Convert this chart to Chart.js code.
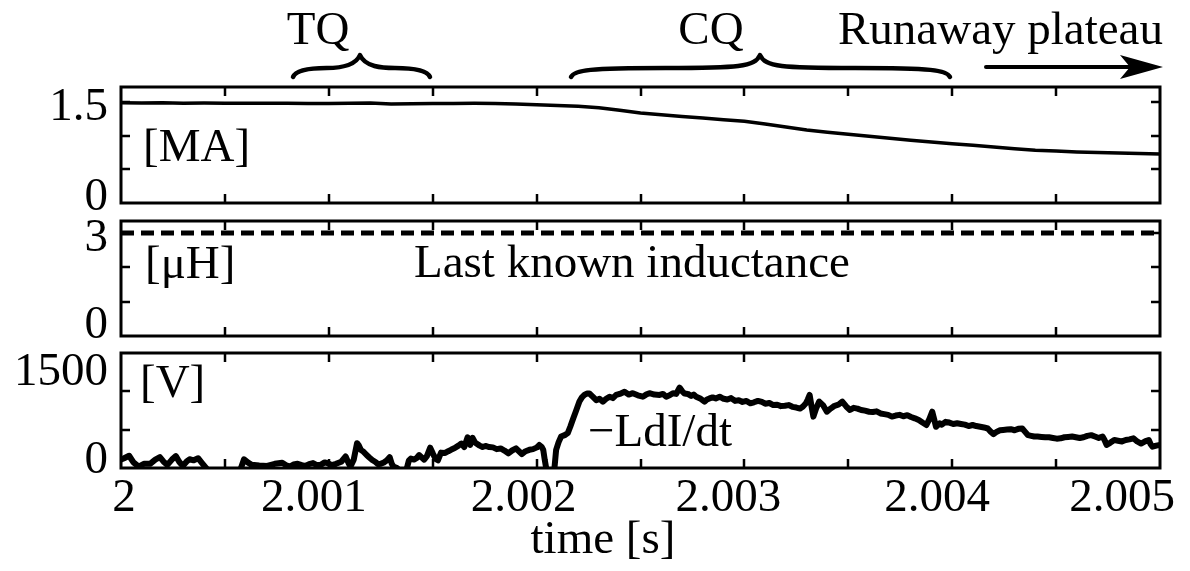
<!DOCTYPE html>
<html><head><meta charset="utf-8">
<script src="https://cdn.jsdelivr.net/npm/chart.js@4.4.1/dist/chart.umd.min.js"></script>
<style>
html,body{margin:0;padding:0;background:#fff;}
#wrap{position:relative;width:1190px;height:571px;overflow:hidden;background:#fff;}
#wrap canvas{position:absolute;left:0;top:0;}
</style></head><body>
<div id="wrap">
<canvas id="c1" width="1190" height="571"></canvas>
<canvas id="c2" width="1190" height="571"></canvas>
<canvas id="c3" width="1190" height="571"></canvas>
</div>
<script>
// ---------------- DATA ----------------
const X_MIN = 2.000, X_MAX = 2.005, X_STEP = 0.0005;
const X_TICK_VALUES = [2.000, 2.001, 2.002, 2.003, 2.004, 2.005];
const X_TICK_LABELS = ['2', '2.001', '2.002', '2.003', '2.004', '2.005'];

// Plasma current [MA], time in microseconds after t = 2 s
const CURRENT_T_US = [0,100,200,300,400,500,600,700,800,900,
  1000,1100,1200,1300,1400,1500,1600,1700,1800,1900,
  2000,2100,2200,2300,2400,2500,2600,2700,2800,2900,
  3000,3100,3200,3300,3400,3500,3600,3700,3800,3900,
  4000,4100,4200,4300,4400,4500,4600,4700,4800,4900,5000];
const CURRENT_MA = [1.485,1.482,1.486,1.480,1.481,1.480,1.479,1.480,1.478,1.474,
  1.476,1.479,1.484,1.468,1.470,1.474,1.476,1.478,1.476,1.468,
  1.456,1.447,1.433,1.412,1.376,1.335,1.307,1.283,1.260,1.236,
  1.212,1.172,1.128,1.082,1.050,1.020,0.990,0.960,0.932,0.905,
  0.880,0.855,0.830,0.803,0.782,0.770,0.757,0.747,0.741,0.735,0.727];
const CURRENT_TICK_VALUES = [0, 1.5];
const CURRENT_TICK_LABELS = ['0', '1.5'];

// Last known inductance [uH]
const INDUCT_T_US = [0, 5000];
const INDUCT_UH = [3.0, 3.0];
const INDUCT_TICK_VALUES = [0, 3];
const INDUCT_TICK_LABELS = ['0', '3'];

// -L dI/dt [V]
const VOLT_T_US = [0,15,39,60,85,110,140,165,187,205,
  223,245,264,280,297,315,330,350,371,390,
  408,430,480,540,575,592,610,629,665,703,
  740,776,795,813,830,850,870,887,905,924,
  942,961,980,998,1015,1035,1060,1081,1095,1104,
  1120,1136,1145,1154,1168,1182,1195,1209,1223,1237,
  1250,1265,1280,1293,1303,1311,1329,1345,1365,1376,
  1385,1395,1410,1422,1435,1447,1459,1472,1488,1502,
  1514,1525,1540,1560,1575,1588,1606,1624,1638,1652,
  1668,1680,1692,1705,1726,1740,1754,1772,1790,1808,
  1827,1845,1864,1882,1901,1915,1929,1947,1965,1983,
  2002,2013,2025,2032,2039,2046,2060,2075,2086,2094,
  2106,2118,2135,2150,2162,2174,2190,2206,2218,2230,
  2242,2254,2270,2287,2303,2319,2335,2351,2367,2383,
  2400,2423,2443,2463,2487,2511,2527,2543,2567,2592,
  2608,2624,2640,2656,2672,2688,2700,2712,2728,2744,
  2756,2768,2790,2808,2820,2832,2847,2862,2881,2900,
  2918,2936,2955,2973,2991,3010,3028,3046,3065,3084,
  3100,3120,3139,3158,3176,3195,3213,3231,3250,3268,
  3282,3296,3305,3314,3322,3332,3345,3360,3378,3397,
  3415,3434,3452,3471,3490,3508,3526,3544,3562,3580,
  3600,3618,3636,3655,3673,3692,3710,3728,3747,3765,
  3784,3802,3820,3839,3857,3876,3890,3904,3913,3922,
  3940,3950,3968,3986,4005,4024,4042,4061,4079,4098,
  4116,4135,4153,4171,4185,4199,4215,4230,4245,4264,
  4282,4300,4318,4337,4350,4365,4380,4395,4411,4430,
  4448,4466,4485,4503,4522,4540,4558,4577,4595,4614,
  4632,4650,4669,4687,4705,4724,4733,4743,4760,4780,
  4798,4817,4835,4853,4872,4890,4909,4928,4946,4955,
  4964,4982,5000];
const VOLT_V = [120,140,175,80,20,60,60,120,155,90,
  45,120,170,90,30,90,125,110,140,70,
  5,-80,-120,-90,-20,125,80,45,35,30,
  60,75,40,20,50,60,40,30,55,70,
  40,45,80,65,40,60,90,165,70,20,
  120,355,320,260,230,185,150,115,90,55,
  60,80,110,155,60,20,0,-60,-40,0,
  105,135,120,140,185,150,120,170,290,200,
  130,110,220,215,240,260,285,320,350,300,
  440,330,430,360,320,300,315,300,295,270,
  280,250,210,250,280,240,200,240,260,270,
  295,330,300,260,120,0,-150,-150,0,260,
  370,450,470,500,590,690,820,950,1010,1045,
  1065,1065,1020,970,990,950,990,1020,1000,1045,
  1060,1090,1050,1070,1040,1020,1050,1070,1050,1045,
  1060,1020,1040,1070,1060,1150,1100,1065,1060,1030,
  1050,1020,990,950,980,995,1010,995,1020,990,
  980,1000,960,970,945,960,925,940,960,945,
  920,930,900,905,885,890,900,875,865,850,
  880,925,980,1045,900,735,850,950,900,805,
  850,890,905,950,880,830,860,850,830,820,
  805,800,810,780,770,760,735,750,760,740,
  755,730,710,685,650,615,700,805,700,590,
  640,620,660,650,630,640,630,620,600,615,
  600,590,580,565,520,485,520,540,545,550,
  555,540,560,565,520,470,460,450,450,445,
  440,440,430,420,425,440,445,450,440,430,
  440,460,470,450,430,450,400,330,360,400,
  390,380,400,410,425,380,350,380,400,340,
  305,320,330];
const VOLT_TICK_VALUES = [0, 1500];
const VOLT_TICK_LABELS = ['0', '1500'];

// ---------------- STYLE ----------------
const FAMILY = "'Liberation Serif','Times New Roman',Times,serif";
const FONT = "47px " + FAMILY;
const X_LABEL_DX = [3, -15, -13, -16, -15, -38];
const LEFT_PAD_W = 121, RIGHT_PAD = 30;

function pts(tus, vals) { return tus.map((u, i) => ({ x: X_MIN + u * 1e-6, y: vals[i] })); }

function brace(ctx, x0, xc, x1, yEnd, yArm, yTop) {
  ctx.beginPath();
  ctx.moveTo(x0, yEnd);
  ctx.bezierCurveTo(x0 + 3, yArm + 2, x0 + 18, yArm, (x0 + xc) / 2, yArm);
  ctx.bezierCurveTo(xc - 22, yArm, xc - 5, yArm - 1, xc, yTop);
  ctx.bezierCurveTo(xc + 5, yArm - 1, xc + 22, yArm, (xc + x1) / 2, yArm);
  ctx.bezierCurveTo(x1 - 18, yArm, x1 - 3, yArm + 2, x1, yEnd);
  ctx.stroke();
}

function panelPlugin(o) {
  return {
    id: 'panel_' + o.name,
    afterDatasetsDraw(chart) {
      const ctx = chart.ctx, a = chart.chartArea, xs = chart.scales.x, ys = chart.scales.y;
      ctx.save();
      ctx.strokeStyle = '#000'; ctx.fillStyle = '#000';
      const L = 9;
      ctx.lineWidth = 2.5;
      ctx.beginPath();
      xs.ticks.forEach(t => {
        const p = Math.round(xs.getPixelForValue(t.value));
        if (p - a.left < 3 || a.right - p < 3) return;
        ctx.moveTo(p, a.top); ctx.lineTo(p, a.top + L);
        ctx.moveTo(p, a.bottom); ctx.lineTo(p, a.bottom - L);
      });
      ys.ticks.forEach(t => {
        const p = Math.round(ys.getPixelForValue(t.value));
        if (p - a.top < 3 || a.bottom - p < 3) return;
        ctx.moveTo(a.left, p); ctx.lineTo(a.left + L, p);
        ctx.moveTo(a.right, p); ctx.lineTo(a.right - L, p);
      });
      ctx.stroke();
      ctx.lineWidth = 3;
      ctx.strokeRect(a.left, a.top, a.right - a.left, a.bottom - a.top);
      // y tick labels
      ctx.font = FONT; ctx.textBaseline = 'alphabetic'; ctx.textAlign = 'right';
      o.yTickValues.forEach((v, i) => {
        const p = ys.getPixelForValue(v);
        ctx.fillText(o.yTickLabels[i], a.left - 13, p + o.yLabelDy[i] + 15);
      });
      if (o.xLabels) {
        ctx.textAlign = 'center';
        X_TICK_VALUES.forEach((v, i) => {
          const p = xs.getPixelForValue(v);
          ctx.fillText(X_TICK_LABELS[i], p + X_LABEL_DX[i], 511);
        });
      }
      if (o.extra) o.extra(ctx, chart);
      ctx.restore();
    }
  };
}

function scales(ymin, ymax, ystep) {
  return {
    x: { type: 'linear', min: X_MIN, max: X_MAX,
         ticks: { stepSize: X_STEP, display: false },
         grid: { display: false, drawTicks: false }, border: { display: false },
         afterFit(s) { s.height = 0; } },
    y: { type: 'linear', min: ymin, max: ymax,
         ticks: { stepSize: ystep, display: false, includeBounds: false },
         grid: { display: false, drawTicks: false }, border: { display: false },
         afterFit(s) { s.width = LEFT_PAD_W; } }
  };
}

function makeChart(id, dataset, yr, padTop, padBottom, plugin) {
  return new Chart(document.getElementById(id), {
    type: 'line',
    data: { datasets: [dataset] },
    options: {
      responsive: false, animation: false, devicePixelRatio: 1, events: [],
      layout: { padding: { left: 0, right: RIGHT_PAD, top: padTop, bottom: padBottom } },
      plugins: { legend: { display: false }, tooltip: { enabled: false } },
      elements: { point: { radius: 0 }, line: { tension: 0 } },
      scales: scales(yr[0], yr[1], yr[2])
    },
    plugins: [plugin]
  });
}

// Panel 1: current
makeChart('c1', {
  data: pts(CURRENT_T_US, CURRENT_MA), borderColor: '#000', borderWidth: 3.5, fill: false
}, [0, 1.72, 0.5], 87, 368, panelPlugin({
  name: 'current', yTickValues: CURRENT_TICK_VALUES, yTickLabels: CURRENT_TICK_LABELS, yLabelDy: [-8, 3],
  extra(ctx) {
    ctx.font = FONT; ctx.textAlign = 'left'; ctx.textBaseline = 'alphabetic';
    ctx.fillText('[MA]', 143, 161);
    ctx.textAlign = 'center';
    ctx.fillText('TQ', 318, 44);
    ctx.fillText('CQ', 711, 44);
    ctx.textAlign = 'left';
    ctx.fillText('Runaway plateau', 838, 44);
    ctx.lineWidth = 4.5; ctx.lineCap = 'round'; ctx.lineJoin = 'round';
    brace(ctx, 293, 360, 430, 77, 68, 55);
    brace(ctx, 571, 760, 950, 77, 68, 55);
    ctx.lineWidth = 4;
    ctx.beginPath(); ctx.moveTo(986, 67); ctx.lineTo(1135, 67); ctx.stroke();
    ctx.beginPath(); ctx.moveTo(1163, 67); ctx.lineTo(1120, 55); ctx.lineTo(1130, 67); ctx.lineTo(1120, 79); ctx.closePath(); ctx.fill();
  }
}));

// Panel 2: inductance
makeChart('c2', {
  data: pts(INDUCT_T_US, INDUCT_UH), borderColor: '#000', borderWidth: 5, borderDash: [13, 7], fill: false
}, [0, 3.35, 1], 221, 235, panelPlugin({
  name: 'induct', yTickValues: INDUCT_TICK_VALUES, yTickLabels: INDUCT_TICK_LABELS, yLabelDy: [-13, 3],
  extra(ctx) {
    ctx.font = FONT; ctx.textAlign = 'left'; ctx.textBaseline = 'alphabetic';
    ctx.fillText('[\u03BCH]', 145, 278);
    ctx.fillText('Last known inductance', 414, 277);
  }
}));

// Panel 3: -L dI/dt
makeChart('c3', {
  data: pts(VOLT_T_US, VOLT_V), borderColor: '#000', borderWidth: 6, fill: false, borderJoinStyle: 'round', borderCapStyle: 'round'
}, [0, 1645, 500], 353, 103, panelPlugin({
  name: 'volt', yTickValues: VOLT_TICK_VALUES, yTickLabels: VOLT_TICK_LABELS, yLabelDy: [-10, 7], xLabels: true,
  extra(ctx) {
    ctx.font = FONT; ctx.textAlign = 'left'; ctx.textBaseline = 'alphabetic';
    ctx.fillText('[V]', 140, 397);
    ctx.fillText('\u2212LdI/dt', 588, 446);
    ctx.textAlign = 'center';
    ctx.fillText('time [s]', 603, 553);
  }
}));
</script>
</body></html>
